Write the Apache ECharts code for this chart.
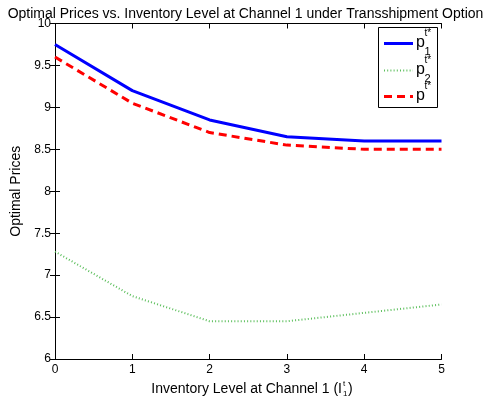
<!DOCTYPE html>
<html><head><meta charset="utf-8">
<script src="https://cdn.jsdelivr.net/npm/echarts@6/dist/echarts.min.js"></script>
<style>html,body{margin:0;padding:0;background:#fff;}#c{width:491px;height:405px;}</style>
</head><body><div id="c"></div>
<script>
const xCats = [0, 1, 2, 3, 4, 5];
const p1 = [9.75, 9.2, 8.85, 8.65, 8.6, 8.6];
const p2 = [7.28, 6.75, 6.45, 6.45, 6.55, 6.65];
const pAll = [9.6, 9.05, 8.7, 8.55, 8.5, 8.5];
const seriesNames = ['p1', 'p2', 'p'];
const titleText = 'Optimal Prices vs. Inventory Level at Channel 1 under Transshipment Option';
const xName = 'Inventory Level at Channel 1 (I';
const yName = 'Optimal Prices';

const FONT = 'Liberation Sans, Arial, sans-serif';
const COLORS = ['#0000ff', '#5cbf5c', '#ff0000'];
const chart = echarts.init(document.getElementById('c'));

const ctx = document.createElement('canvas').getContext('2d');
ctx.font = '14px "Liberation Sans"';
const xNameW = ctx.measureText(xName).width;
const xNameTotal = xNameW + 6 + ctx.measureText(')').width;
const xStart = 252 - xNameTotal / 2;
const xNameY = 389;

const axisBase = {
  type: 'value',
  axisLine: { show: true, lineStyle: { color: '#000', width: 1 } },
  axisTick: { show: true, inside: true, length: 5, lineStyle: { color: '#000' } },
  splitLine: { show: false }
};
function txt(x, y, s, size, align, vAlign) {
  return { type: 'text', x: x, y: y, silent: true,
    style: { text: s, fontFamily: FONT, fontSize: size, fill: '#000', align: align || 'left', verticalAlign: vAlign || 'middle' } };
}
const legendX0 = 384, legendX1 = 413, rowsY = [43.5, 70.5, 96.5];
const dashes = [null, [1, 2.2], [8, 5]];
const widths = [3, 2, 3];
const graphics = [
  { type: 'rect', shape: { x: 378.5, y: 27.5, width: 59, height: 80 }, silent: true,
    style: { fill: '#fff', stroke: '#000', lineWidth: 1 }, z: 100 }
];
rowsY.forEach((y, i) => {
  graphics.push({ type: 'line', silent: true, z: 101,
    shape: { x1: legendX0, y1: y, x2: legendX1, y2: y },
    style: { stroke: COLORS[i], lineWidth: widths[i], lineDash: dashes[i] } });
  graphics.push(Object.assign(txt(416, y - 0.5, 'p', 16), { z: 101 }));
  graphics.push(Object.assign(txt(424.5, y - 10, 't*', 10), { z: 101 }));
  if (i < 2) graphics.push(Object.assign(txt(424.5, y + 8, String(i + 1), 11), { z: 101 }));
});
graphics.push(txt(xStart, xNameY, xName, 14));
graphics.push(txt(xStart + xNameW + 1, xNameY - 5, 't', 8));
graphics.push(txt(xStart + xNameW + 1, xNameY + 4.5, '1', 8));
graphics.push(txt(xStart + xNameW + 6, xNameY, ')', 14));

chart.setOption({
  animation: false,
  title: {
    text: titleText, left: 'center', top: 2,
    textStyle: { fontFamily: FONT, fontSize: 14, fontWeight: 'normal', color: '#000' }
  },
  grid: { left: 55, top: 23.5, right: 49.5, bottom: 46 },
  graphic: graphics,
  xAxis: [
    Object.assign({}, axisBase, {
      min: 0, max: 5, interval: 1, position: 'bottom',
      axisLabel: { fontFamily: FONT, fontSize: 12, color: '#000', margin: 5 }
    }),
    Object.assign({}, axisBase, {
      min: 0, max: 5, interval: 1, position: 'top',
      axisLabel: { show: false }
    })
  ],
  yAxis: [
    Object.assign({}, axisBase, {
      min: 6, max: 10, interval: 0.5, position: 'left',
      axisLabel: { fontFamily: FONT, fontSize: 12, color: '#000', margin: 4 },
      name: yName, nameLocation: 'middle', nameGap: 26,
      nameTextStyle: { fontFamily: FONT, fontSize: 14, color: '#000' }
    }),
    Object.assign({}, axisBase, {
      min: 6, max: 10, interval: 0.5, position: 'right',
      axisLabel: { show: false }
    })
  ],
  series: [
    { name: seriesNames[0], type: 'line', data: xCats.map((x, i) => [x, p1[i]]), symbol: 'none',
      lineStyle: { color: COLORS[0], width: 3 }, itemStyle: { color: COLORS[0] } },
    { name: seriesNames[1], type: 'line', data: xCats.map((x, i) => [x, p2[i]]), symbol: 'none',
      lineStyle: { color: COLORS[1], width: 2, type: [1, 2.2] }, itemStyle: { color: COLORS[1] } },
    { name: seriesNames[2], type: 'line', data: xCats.map((x, i) => [x, pAll[i]]), symbol: 'none',
      lineStyle: { color: COLORS[2], width: 3, type: [8, 5] }, itemStyle: { color: COLORS[2] } }
  ]
});
</script></body></html>
